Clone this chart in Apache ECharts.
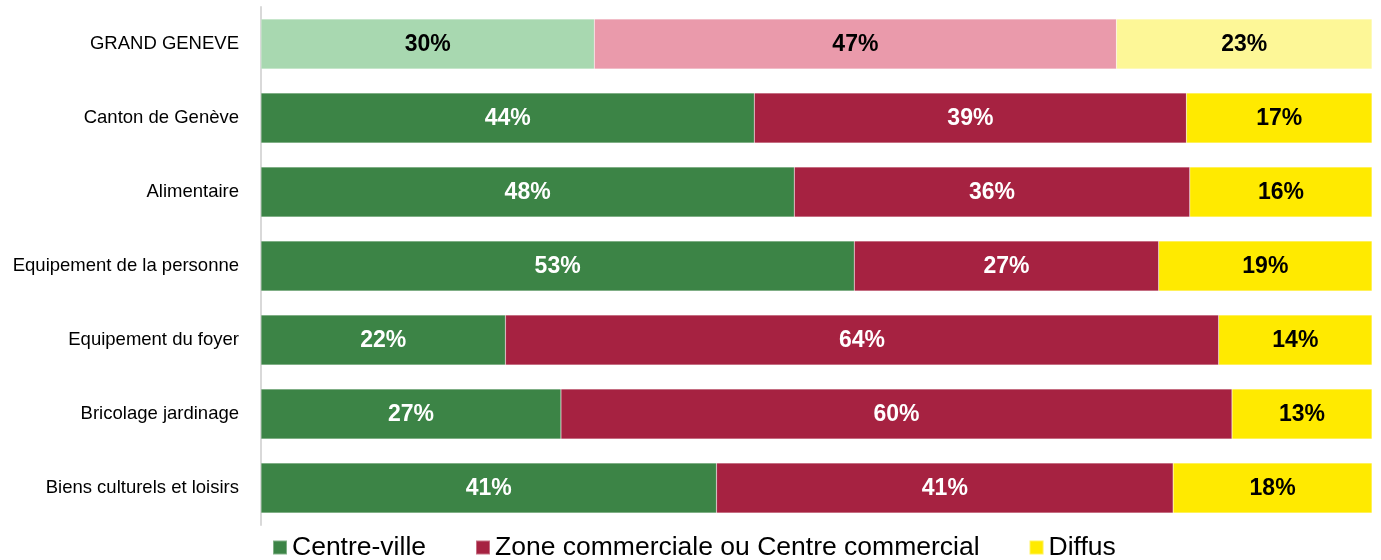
<!DOCTYPE html>
<html>
<head>
<meta charset="utf-8">
<script src="https://cdn.jsdelivr.net/npm/echarts@6/dist/echarts.min.js"></script>
<style>
  html, body { margin: 0; padding: 0; background: #fff; }
  #chart { width: 1381px; height: 560px; }
</style>
</head>
<body>
<div id="chart"></div>
<script>
const categories = [
  "GRAND GENEVE",
  "Canton de Genève",
  "Alimentaire",
  "Equipement de la personne",
  "Equipement du foyer",
  "Bricolage jardinage",
  "Biens culturels et loisirs",
];
const centreVille = [30.0, 44.4, 48.0, 53.4, 22.0, 27.0, 41.0];
const zoneCommerciale = [47.0, 38.9, 35.6, 27.4, 64.2, 60.4, 41.1];
const diffus = [23.0, 16.7, 16.4, 19.2, 13.8, 12.6, 17.9];

const seriesNames = ["Centre-ville", "Zone commerciale ou Centre commercial", "Diffus"];
const mainColors = ["#3c8446", "#a62241", "#ffea00"];
const lightColors = ["#a8d8b0", "#ea9aab", "#fdf797"];
const labelColors = ["#ffffff", "#ffffff", "#000000"];

const chart = echarts.init(document.getElementById("chart"));

const makeSeries = (idx, values) => ({
  name: seriesNames[idx],
  type: "bar",
  stack: "total",
  barWidth: 50,
  color: mainColors[idx],
  data: values.map((v, i) => {
    const item = { value: v };
    if (i === 0) {
      item.itemStyle = { color: lightColors[idx] };
      item.label = { color: "#000000" };
    }
    return item;
  }),
  label: {
    show: true,
    position: "inside",
    offset: [0, 1],
    color: labelColors[idx],
    fontFamily: "Liberation Sans, Arial, sans-serif",
    fontWeight: "bold",
    fontSize: 23,
    formatter: (p) => Math.round(p.value) + "%",
  },
  itemStyle: { borderColor: "rgba(255,255,255,0.35)", borderWidth: 0.5 },
});

chart.setOption({
  animation: false,
  grid: { left: 261, right: 9, top: 7, bottom: 35, containLabel: false },
  legend: {
    left: 267,
    top: 529,
    icon: "rect",
    itemWidth: 14,
    itemHeight: 14,
    itemGap: 49,
    textStyle: {
      fontFamily: "Liberation Sans, Arial, sans-serif",
      fontSize: 26.5,
      color: "#000",
    },
    data: seriesNames,
  },
  xAxis: {
    type: "value",
    min: 0,
    max: 100,
    show: false,
  },
  yAxis: {
    type: "category",
    inverse: true,
    data: categories,
    axisLine: { show: true, lineStyle: { color: "#d9d9d9", width: 2 } },
    axisTick: { show: false },
    axisLabel: {
      margin: 22,
      fontFamily: "Liberation Sans, Arial, sans-serif",
      fontSize: 18.5,
      color: "#000",
    },
  },
  series: [
    makeSeries(0, centreVille),
    makeSeries(1, zoneCommerciale),
    makeSeries(2, diffus),
  ],
});
</script>
</body>
</html>
